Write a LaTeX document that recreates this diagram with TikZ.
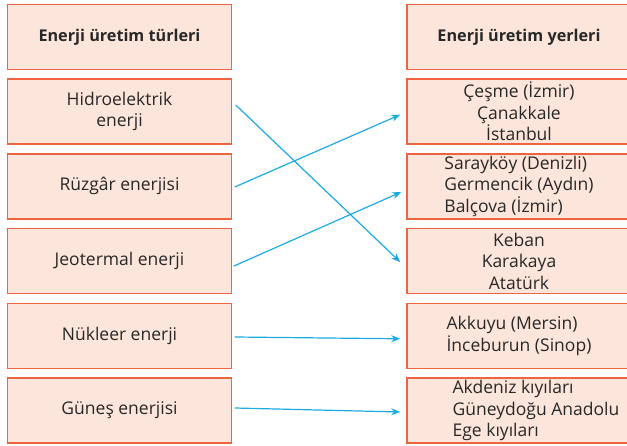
\documentclass[tikz,border=0pt]{standalone}
\usepackage{fontspec}
\setmainfont{Open Sans}
\usepackage{tikz}
\usetikzlibrary{arrows.meta}
\definecolor{boxfill}{RGB}{252,229,218}
\definecolor{boxline}{RGB}{239,100,62}
\definecolor{arrowblue}{RGB}{28,170,226}
\definecolor{textgray}{RGB}{40,40,40}

\begin{document}
\begin{tikzpicture}[x=1pt, y=-1pt, every node/.style={draw=boxline, fill=boxfill, line width=1.5pt, minimum width=224pt, minimum height=65pt, inner sep=0pt, text=textgray, font=\fontsize{17.5}{21.5}\selectfont}, head/.style={font=\fontsize{16.2}{22}\selectfont\bfseries}, link/.style={draw=arrowblue, line width=1.2pt, -{Stealth[length=9pt,width=7pt]}}]
        \useasboundingbox (0,0) rectangle (627,446);
        \clip (0,0) rectangle (627,446);
        \node[head] (T1) at (119.5,37) {Enerji üretim türleri};
        \node[align=center] (T2) at (119.5,111.7) {Hidroelektrik\\enerji};
        \node (T3) at (119.5,186.4) {Rüzgâr enerjisi};
        \node (T4) at (119.5,261.1) {Jeotermal enerji};
        \node (T5) at (119.5,335.8) {Nükleer enerji};
        \node (T6) at (119.5,410.5) {Güneş enerjisi};

        \node[head] (Y1) at (519,37) {Enerji üretim yerleri};
        \node[align=center] (Y2) at (519,111.7) {Çeşme (İzmir)\\Çanakkale\\İstanbul};
        \node[align=left] (Y3) at (519,186.4) {Sarayköy (Denizli)\\Germencik (Aydın)\\Balçova (İzmir)};
        \node[align=center] (Y4) at (519,261.1) {Keban\\Karakaya\\Atatürk};
        \node[align=left] (Y5) at (519,335.8) {Akkuyu (Mersin)\\İnceburun (Sinop)};
        \node[align=left] (Y6) at (519,410.5) {\hspace*{34pt}Akdeniz kıyıları\\\hspace*{34pt}Güneydoğu Anadolu\\\hspace*{34pt}Ege kıyıları};

        \draw[link] ([shift={(3.5,-6.7)}]T2.east) -- ([shift={(-6,1)}]Y4.west);
        \draw[link] ([shift={(2.5,0.6)}]T3.east) -- ([shift={(-6,3)}]Y2.west);
        \draw[link] ([shift={(1.5,5)}]T4.east) -- ([shift={(-5,5.6)}]Y3.west);
        \draw[link] ([shift={(2.5,1.2)}]T5.east) -- ([shift={(-6,3)}]Y5.west);
        \draw[link] ([shift={(2.5,-2.5)}]T6.east) -- ([shift={(-6,1.5)}]Y6.west);
    \end{tikzpicture}
\end{document}
